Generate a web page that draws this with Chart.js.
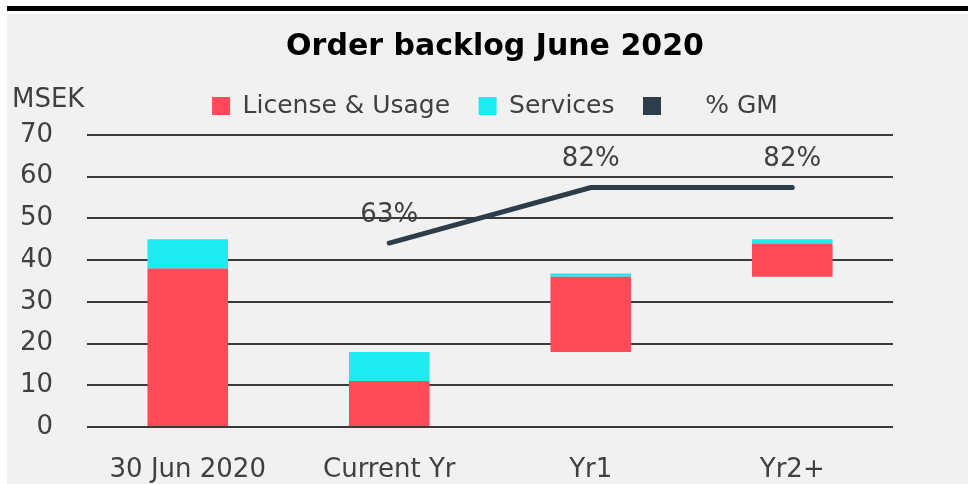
<!DOCTYPE html>
<html>
<head>
<meta charset="utf-8">
<script src="https://cdn.jsdelivr.net/npm/chart.js@4"></script>
<style>
  body { margin: 0; background: #fff; width: 968px; height: 484px; overflow: hidden; position: relative; }
  #bar { position: absolute; left: 7px; top: 6px; width: 961px; height: 5px; background: #000; }
  #box { position: absolute; left: 7px; top: 14px; width: 961px; height: 470px; background: #f1f1f1; }
</style>
</head>
<body>
<div id="bar"></div>
<div id="box"><canvas id="myChart" width="961" height="470"></canvas></div>
<script>
// data (MSEK)
var categories = ["30 Jun 2020", "Current Yr", "Yr1", "Yr2+"];
var licenseFrom = [0, 0, 18, 36];
var licenseTo = [38, 11, 36, 44];
var servicesTo = [45, 18, 36.8, 45];
var gmPercent = [null, 63, 82, 82];
var yTicks = [0, 10, 20, 30, 40, 50, 60, 70];

var textColor = "#404040";
Chart.defaults.font.family = "'DejaVu Sans'";
Chart.defaults.color = textColor;

var licenseBars = categories.map(function (c, i) { return [licenseFrom[i], licenseTo[i]]; });
var servicesBars = categories.map(function (c, i) { return [licenseTo[i], servicesTo[i]]; });

// MSEK unit label and the % labels over the line
var extraText = {
    id: "extraText",
    afterDatasetsDraw: function (chart) {
        var ctx = chart.ctx;
        ctx.save();
        ctx.fillStyle = textColor;
        ctx.font = "26px 'DejaVu Sans'";
        ctx.textBaseline = "middle";
        ctx.textAlign = "left";
        ctx.fillText("MSEK", 5, 86);
        ctx.textAlign = "center";
        var meta = chart.getDatasetMeta(2);
        meta.data.forEach(function (pt, i) {
            if (gmPercent[i] == null) return;
            ctx.fillText(gmPercent[i] + "%", pt.x, pt.y - 28);
        });
        ctx.restore();
    }
};

var mychart = new Chart(document.getElementById("myChart"), {
    type: "bar",
    data: {
        labels: categories,
        datasets: [{
                label: "License & Usage",
                data: licenseBars,
                backgroundColor: "#ff4a5a",
                borderWidth: 0,
                grouped: false,
                barPercentage: 0.8,
                categoryPercentage: 0.5
            }, {
                label: "Services",
                data: servicesBars,
                backgroundColor: "#1eebf0",
                borderWidth: 0,
                grouped: false,
                barPercentage: 0.8,
                categoryPercentage: 0.5
            }, {
                type: "line",
                label: "    % GM",
                data: gmPercent,
                yAxisID: "y2",
                borderColor: "#2e3d4a",
                backgroundColor: "#2e3d4a",
                borderWidth: 5,
                borderCapStyle: "round",
                pointRadius: 0,
                tension: 0
            }
        ]
    },
    options: {
        responsive: false,
        animation: false,
        layout: {padding: {left: 15, right: 0, top: 0, bottom: 0}},
        plugins: {
            title: {
                display: true,
                text: "Order backlog June 2020",
                color: "#000",
                font: {size: 30, weight: "bold", lineHeight: 1.2},
                padding: {top: 15, bottom: 0}
            },
            legend: {
                display: true,
                labels: {
                    boxWidth: 18,
                    boxHeight: 18,
                    padding: 28.5,
                    font: {size: 25},
                    color: textColor,
                    generateLabels: function (chart) {
                        var items = Chart.defaults.plugins.legend.labels.generateLabels(chart);
                        items.forEach(function (it) {
                            it.lineWidth = 0;
                        });
                        return items;
                    }
                }
            },
            tooltip: {enabled: false}
        },
        scales: {
            x: {
                grid: {display: false},
                border: {display: false},
                ticks: {font: {size: 26}, padding: 20, color: textColor},
                afterFit: function (scale) {
                    scale.height = 57;
                }
            },
            xTop: {
                type: "linear",
                position: "top",
                display: true,
                grid: {display: false},
                border: {display: false},
                ticks: {display: false},
                afterFit: function (scale) {
                    scale.height = 6.5;
                }
            },
            y: {
                min: 0,
                max: 70,
                afterBuildTicks: function (scale) {
                    scale.ticks = yTicks.map(function (v) { return {value: v}; });
                },
                grid: {color: "#3a3a3a", lineWidth: 2, drawTicks: false},
                border: {display: false},
                ticks: {font: {size: 26}, padding: 34, color: textColor},
                afterFit: function (scale) {
                    scale.width = 65;
                }
            },
            y2: {
                min: 0,
                max: 100,
                position: "right",
                display: true,
                grid: {display: false},
                border: {display: false},
                ticks: {display: false},
                afterFit: function (scale) {
                    scale.width = 75;
                }
            }
        }
    },
    plugins: [extraText]
});
</script>
</body>
</html>
